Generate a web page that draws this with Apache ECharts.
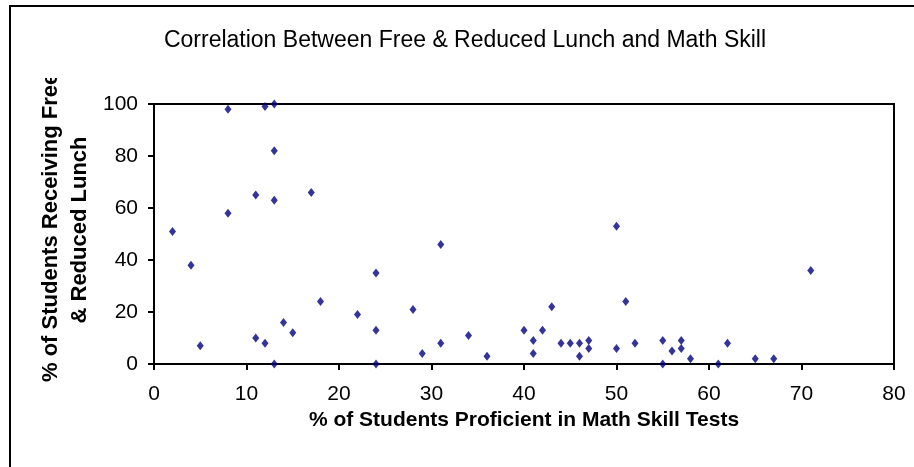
<!DOCTYPE html>
<html>
<head>
<meta charset="utf-8">
<script src="https://cdn.jsdelivr.net/npm/echarts@6/dist/echarts.min.js"></script>
<style>
  html, body { margin: 0; padding: 0; background: #fff; }
  #chart { width: 914px; height: 467px; }
</style>
</head>
<body>
<div id="chart"></div>
<script>
var proficient = [8, 12, 13, 13, 11, 13, 17, 8, 2, 4, 5, 11, 12, 13, 14, 15, 18, 22, 24, 24, 24,
    28, 29, 31, 31, 34, 36, 40, 41, 41, 42, 43, 44, 45, 46, 46, 47, 47, 50, 50, 51, 52,
    55, 55, 56, 57, 57, 58, 61, 62, 65, 67, 71];
var lunch = [98, 99, 100, 82, 65, 63, 66, 58, 51, 38, 7, 10, 8, 0, 16, 12, 24, 19, 35, 13, 0,
    21, 4, 46, 8, 11, 3, 13, 9, 4, 13, 22, 8, 8, 8, 3, 9, 6, 53, 6, 24, 8,
    9, 0, 5, 9, 6, 2, 0, 8, 2, 2, 36];

var font = '"Liberation Sans", Arial, sans-serif';
var points = proficient.map(function (x, i) { return [x, lunch[i]]; });

var myChart = echarts.init(document.getElementById('chart'));
var option = {
    animation: false,
    title: {
        text: 'Correlation Between Free & Reduced Lunch and Math Skill',
        left: 460,
        top: 24,
        textAlign: 'center',
        textStyle: { fontFamily: font, fontSize: 23, fontWeight: 'normal', color: '#000' }
    },
    grid: {
        left: 154, right: 20, top: 104, bottom: 103,
        show: true, borderColor: '#000', borderWidth: 2
    },
    xAxis: {
        type: 'value',
        min: 0, max: 80, interval: 10,
        name: '% of Students Proficient in Math Skill Tests',
        nameLocation: 'middle',
        nameGap: 35,
        nameTextStyle: { fontFamily: font, fontSize: 21, fontWeight: 'bold', color: '#000' },
        axisLine: { lineStyle: { color: '#000', width: 2 } },
        axisTick: { show: true, length: 6, lineStyle: { color: '#000', width: 2 } },
        axisLabel: { margin: 20, fontFamily: font, fontSize: 21, color: '#000' },
        splitLine: { show: false }
    },
    yAxis: {
        type: 'value',
        min: 0, max: 100, interval: 20,
        axisLine: { show: true, lineStyle: { color: '#000', width: 2 } },
        axisTick: { show: true, length: 6, lineStyle: { color: '#000', width: 2 } },
        axisLabel: { margin: 16, fontFamily: font, fontSize: 21, color: '#000' },
        splitLine: { show: false }
    },
    graphic: [
        {
            type: 'rect', z: 0, silent: true,
            shape: { x: 10, y: 6, width: 1200, height: 1200 },
            style: { fill: 'none', stroke: '#000', lineWidth: 2 }
        },
        {
            type: 'text', z: 10, silent: true,
            x: 51, y: 382, rotation: Math.PI / 2,
            style: {
                text: '% of Students Receiving Free',
                x: 0, y: 0, align: 'left', verticalAlign: 'middle',
                font: 'bold 22px ' + font, fill: '#000'
            }
        },
        {
            type: 'text', z: 10, silent: true,
            x: 80, y: 230, rotation: Math.PI / 2,
            style: {
                text: '& Reduced Lunch',
                x: 0, y: 0, align: 'center', verticalAlign: 'middle',
                font: 'bold 22px ' + font, fill: '#000'
            }
        },
        {
            type: 'rect', z: 20, silent: true,
            shape: { x: 12, y: 8, width: 100, height: 70 },
            style: { fill: '#fff' }
        }
    ],
    series: [
        {
            type: 'scatter',
            symbol: 'diamond',
            symbolSize: [7, 9],
            itemStyle: { color: '#000080' },
            data: points
        }
    ]
};
myChart.setOption(option);
</script>
</body>
</html>
